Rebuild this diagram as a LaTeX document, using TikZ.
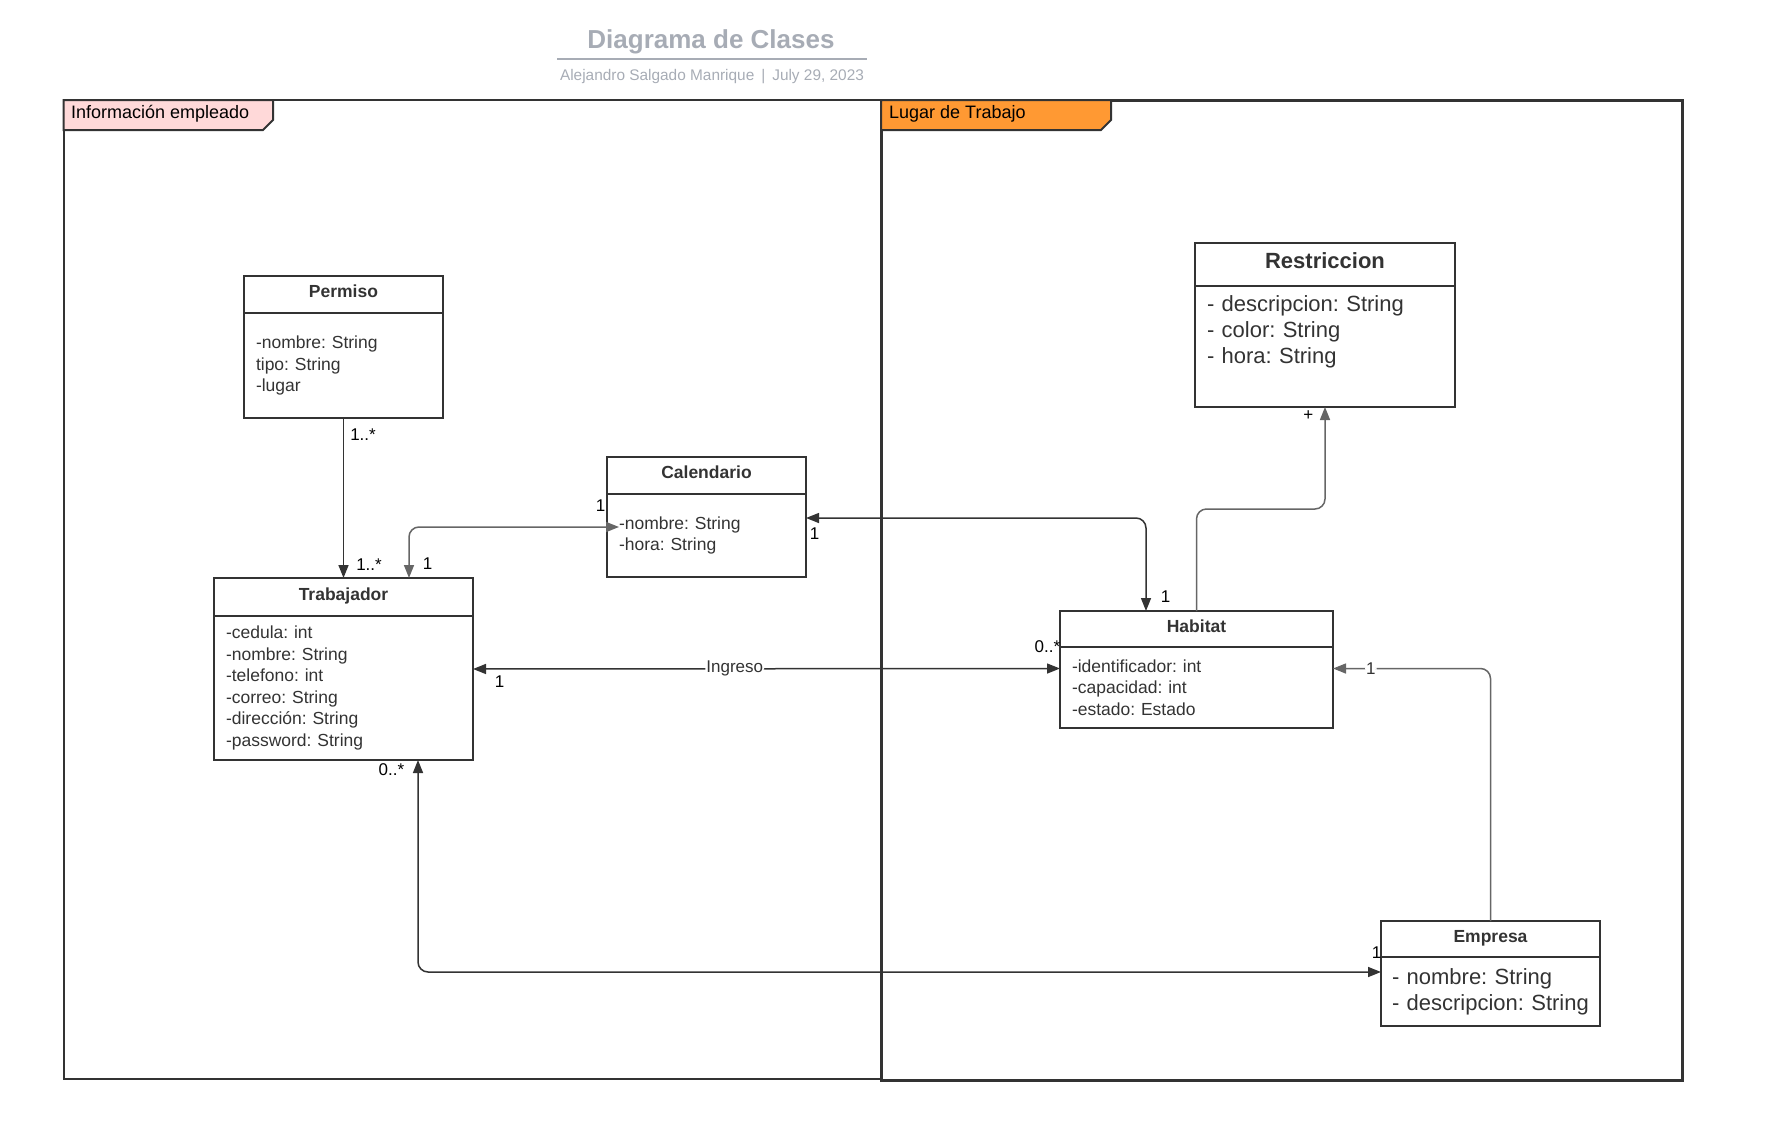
\documentclass[tikz,border=0pt]{standalone}
\usepackage{fontspec}
\setmainfont{Liberation Sans}
\usetikzlibrary{positioning, arrows.meta}
\definecolor{lineclr}{HTML}{333333}
\definecolor{softline}{HTML}{666666}
\definecolor{textclr}{HTML}{333333}
\definecolor{titlegray}{HTML}{A7ACB5}
\definecolor{tabpink}{HTML}{FFD9D9}
\definecolor{taborange}{HTML}{FF9933}
\frenchspacing

\begin{document}
\begin{tikzpicture}[%
		x=1pt, y=-1pt,
		>={Triangle[length=13pt,width=10pt]},
		titletext/.style={
			text=titlegray,
			font=\bfseries\fontsize{26}{30}\selectfont
		},
		subtext/.style={
			text=titlegray,
			font=\fontsize{15.4}{18}\selectfont
		},
		titlerule/.style={
			draw=titlegray,
			line width=2pt
		},
		frameline/.style={
			draw=lineclr,
			line width=2pt
		},
		tabshape/.style={
			draw=lineclr,
			line width=2pt
		},
		tablabel/.style={
			anchor=west,
			inner sep=0pt,
			font=\fontsize{18}{21}\selectfont
		},
		classhead/.style={
			rectangle,
			draw=lineclr,
			line width=1.8pt,
			anchor=north west,
			inner sep=0pt,
			outer sep=0pt,
			text height=13pt,
			text depth=7pt,
			text=textclr,
			font=\bfseries\fontsize{17.5}{21}\selectfont
		},
		bighead/.style={
			text height=16pt,
			text depth=7.6pt,
			font=\bfseries\fontsize{22}{26}\selectfont
		},
		classbody/.style={
			rectangle,
			draw=lineclr,
			line width=1.8pt,
			inner xsep=12pt,
			inner ysep=0pt,
			outer sep=0pt,
			align=left,
			text=textclr,
			font=\fontsize{17.5}{21.5}\selectfont
		},
		bigattr/.style={
			font=\fontsize{22}{26}\selectfont
		},
		assoc/.style={
			draw=lineclr,
			line width=1.5pt,
			rounded corners=10pt
		},
		softassoc/.style={
			draw=softline,
			line width=1.5pt,
			rounded corners=10pt
		},
		mult/.style={
			inner sep=1pt,
			font=\fontsize{17}{20}\selectfont
		},
		onlabel/.style={
			fill=white,
			inner sep=1pt,
			text=textclr,
			font=\fontsize{17}{20}\selectfont
		}]

		\useasboundingbox (0,0) rectangle (1778,1127);

		% TITLE

		\node (title) [titletext] at (711,41.5) {Diagrama de Clases};
		\draw[titlerule] (557,59) -- (867,59);
		\node (subtitle) [subtext] at (712,76.5) {Alejandro Salgado Manrique\hspace{7pt}|\hspace{7pt}July 29, 2023};

		% FRAMES

		\draw[frameline] (63.5,100) rectangle (881,1079);
		\draw[frameline, line width=3pt] (881,100) rectangle (1682,1080);
		\draw[tabshape, fill=tabpink] (63.5,100) -- (273,100) -- (273,120) -- (263,130) -- (63.5,130) -- cycle;
		\node (info-tab) [tablabel] at (71,114) {Información empleado};
		\draw[tabshape, fill=taborange] (881,100) -- (1111,100) -- (1111,120) -- (1101,130) -- (881,130) -- cycle;
		\node (work-tab) [tablabel] at (889,114) {Lugar de Trabajo};

		% CLASSES

		\node (perm) [classhead, minimum width=199pt, minimum height=37pt] at (244,276) {Permiso};
		\node (perm-body) [classbody, below=0pt of perm, text width=175pt, minimum height=105pt] {-nombre: String\\tipo: String\\-lugar};

		\node (cal) [classhead, minimum width=199pt, minimum height=37pt] at (607,457) {Calendario};
		\node (cal-body) [classbody, below=0pt of cal, text width=175pt, minimum height=83pt] {-nombre: String\\-hora: String};

		\node (trab) [classhead, minimum width=259pt, minimum height=38pt] at (214,578) {Trabajador};
		\node (trab-body) [classbody, below=0pt of trab, text width=235pt, minimum height=144pt] {-cedula: int\\-nombre: String\\-telefono: int\\-correo: String\\-dirección: String\\-password: String};

		\node (res) [classhead, bighead, minimum width=260pt, minimum height=43pt] at (1195,243) {Restriccion};
		\node (res-body) [classbody, bigattr, below=0pt of res, text width=236pt, minimum height=121pt] {- descripcion: String\\- color: String\\- hora: String\\[7pt]\mbox{}};

		\node (hab) [classhead, minimum width=273pt, minimum height=36pt] at (1060,611) {Habitat};
		\node (hab-body) [classbody, below=0pt of hab, text width=249pt, minimum height=81pt] {-identificador: int\\-capacidad: int\\-estado: Estado};

		\node (emp) [classhead, minimum width=219pt, minimum height=36pt] at (1381,921) {Empresa};
		\node (emp-body) [classbody, bigattr, below=0pt of emp, inner xsep=11pt, text width=197pt, minimum height=69pt] {- nombre: String\\- descripcion: String};

		% ASSOCIATION LINES

		\draw[assoc, ->] (perm-body.south) -- node[mult, pos=0, anchor=north west, xshift=5pt, yshift=-9pt] {1..*} node[mult, pos=1, anchor=south west, xshift=11pt, yshift=6pt] {1..*} (trab.north);
		\draw[softassoc, <->] ([xshift=65.5pt]trab.north) |- node[mult, pos=0, anchor=south west, xshift=12pt, yshift=7pt] {1} node[mult, pos=1, anchor=south east, xshift=-12pt, yshift=14pt] {1} ([xshift=12pt,yshift=8.5pt]cal-body.west);
		\draw[assoc, <->] ([yshift=17.5pt]cal-body.east) -| node[mult, pos=0, anchor=north west, xshift=2pt, yshift=-8pt] {1} node[mult, pos=1, anchor=south west, xshift=13pt, yshift=7pt] {1} ([xshift=-50.5pt]hab.north);
		\draw[assoc, <->] ([yshift=19pt]trab-body.east) -- node[onlabel, pos=0.446] {Ingreso} node[mult, pos=0, anchor=north west, xshift=20pt, yshift=-5pt] {1} node[mult, pos=1, anchor=south east, xshift=2pt, yshift=14pt] {0..*} ([yshift=19pt]hab-body.west);
		\draw[softassoc, ->] (hab.north) -- ++(0,-102) -| node[mult, pos=1, anchor=north east, xshift=-10pt, yshift=-2pt] {+} (res-body.south);
		\draw[softassoc, ->] (emp.north) |- node[onlabel, pos=0.88] {1} ([yshift=19pt]hab-body.east);
		\draw[assoc, <->] ([xshift=74.5pt]trab-body.south) |- node[mult, pos=0, anchor=north east, xshift=-12pt, yshift=-2pt] {0..*} node[mult, pos=1, anchor=south east, xshift=2pt, yshift=12pt] {1} ([yshift=19.5pt]emp-body.west);
\end{tikzpicture}
\end{document}
